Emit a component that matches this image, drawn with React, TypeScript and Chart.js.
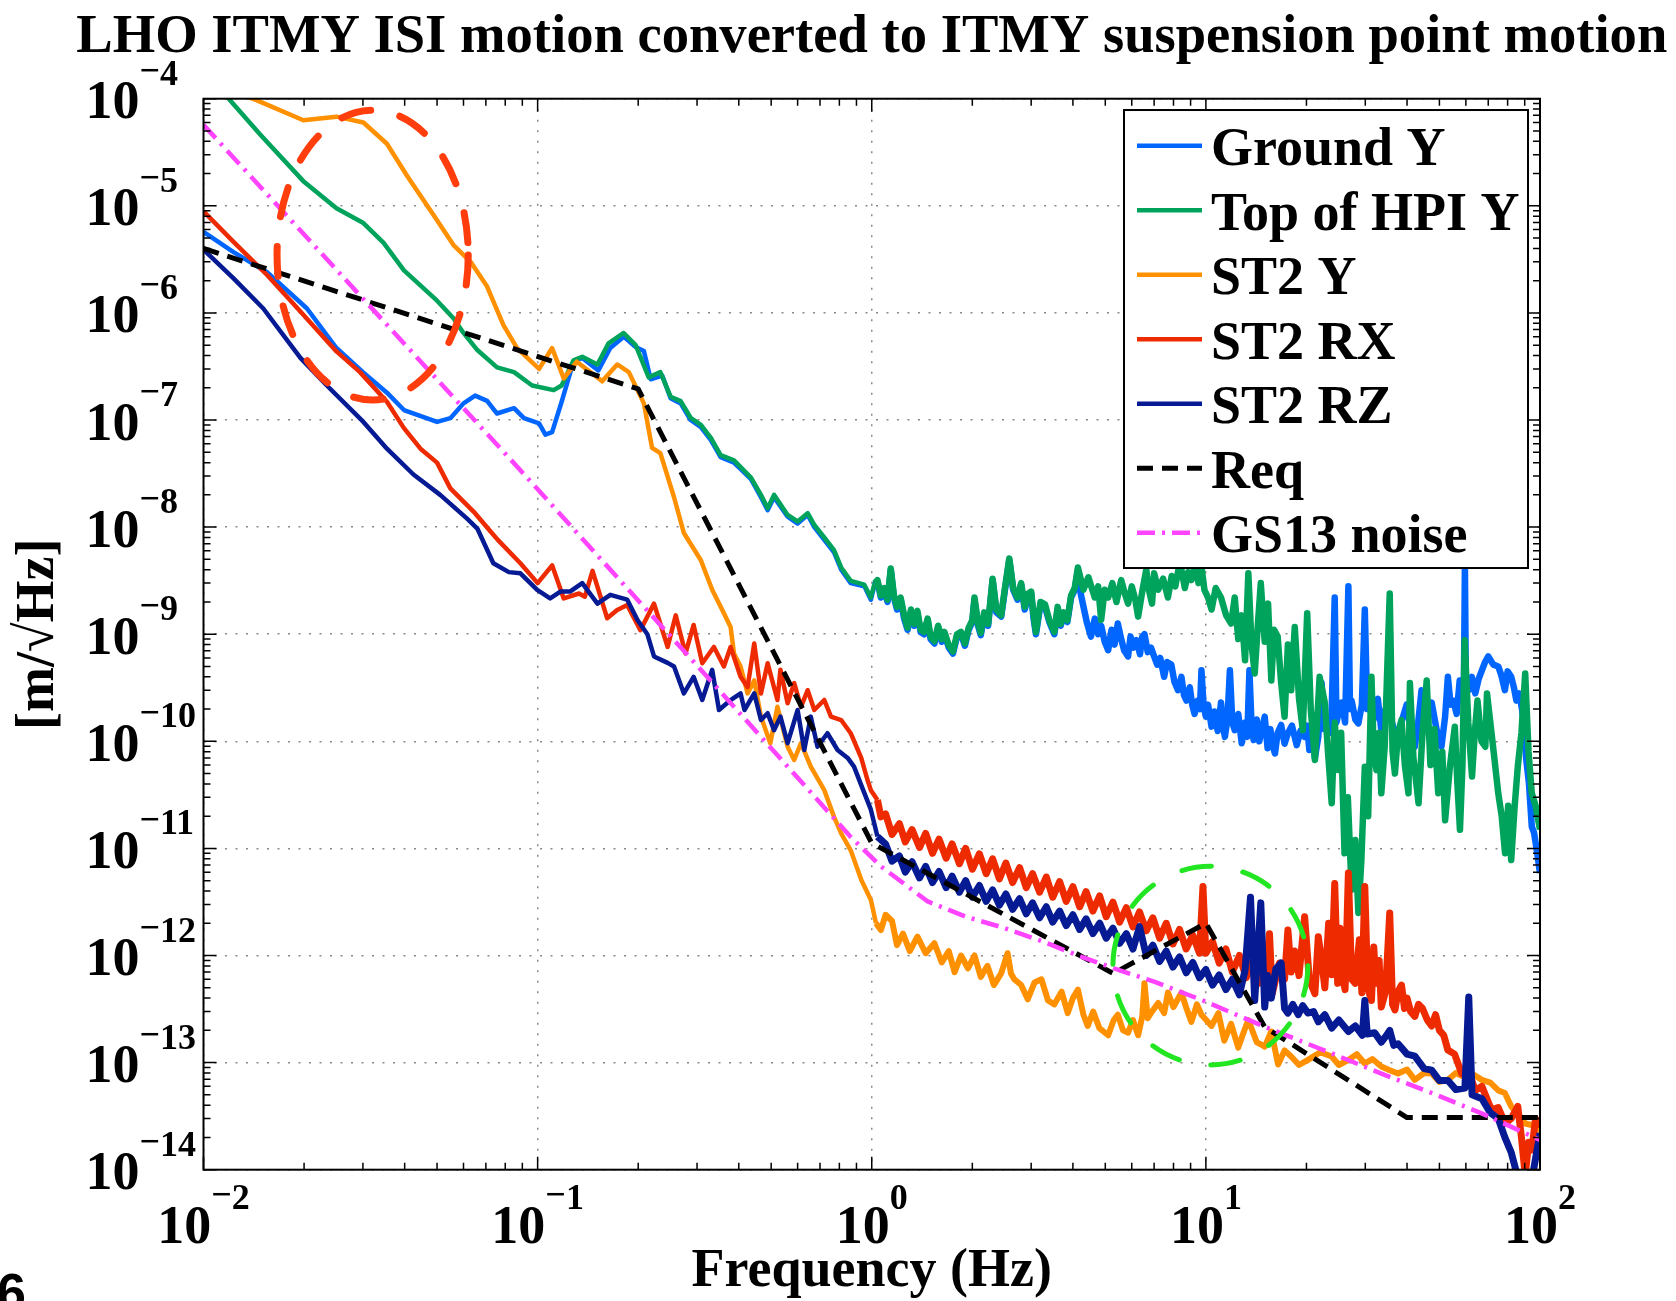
import React, { useEffect, useRef } from "react";
import { Chart, registerables } from "chart.js";

Chart.register(...registerables);

const SERIF = "'Liberation Serif', 'Times New Roman', Times, serif";

// ---------- data: [frequency (Hz), amplitude (m/sqrt(Hz))] ----------
const groundY: number[][] = [
  [0.01,5.7e-6],[0.0123,3.7e-6],[0.0155,2.4e-6],[0.0204,1.1e-6],[0.025,4.7e-7],[0.03,2.8e-7],[0.0354,1.8e-7],[0.0398,1.24e-7],[0.05,9.6e-8],[0.0548,1.04e-7],
  [0.06,1.43e-7],[0.065,1.69e-7],[0.0706,1.51e-7],[0.0756,1.15e-7],[0.085,1.29e-7],[0.091,1.04e-7],[0.101,9.3e-8],[0.1055,7.3e-8],[0.1105,7.7e-8],[0.118,1.48e-7],
  [0.128,3.5e-7],[0.136,3.8e-7],[0.152,2.9e-7],[0.165,4.7e-7],[0.181,6.0e-7],[0.1965,4.8e-7],[0.208,4.4e-7],[0.218,2.4e-7],[0.236,2.6e-7],[0.25,1.6e-7],
  [0.268,1.43e-7],[0.287,1.0e-7],[0.308,8.6e-8],[0.33,6.5e-8],[0.353,4.5e-8],[0.387,4.0e-8],[0.435,2.8e-8],[0.466,1.9e-8],[0.488,1.44e-8],[0.51,1.9e-8],
  [0.56,1.25e-8],[0.6,1.08e-8],[0.643,1.3e-8],[0.673,1.0e-8],[0.721,7.6e-9],[0.771,5.8e-9],[0.81,4.0e-9],[0.865,3.0e-9],[0.95,2.8e-9],[0.994,2.1e-9],
  [1.02,2.9e-9],[1.04,3.1e-9],[1.065,2.2e-9],[1.09,2.6e-9],[1.115,2.0e-9],[1.14,4.0e-9],[1.165,2.2e-9],[1.19,1.7e-9],[1.22,2.1e-9],[1.25,1.4e-9],
  [1.28,1.1e-9],[1.31,1.6e-9],[1.34,1.2e-9],[1.37,1.57e-9],[1.4,1.05e-9],[1.435,1.0e-9],[1.47,1.35e-9],[1.5,9.0e-10],[1.54,8.2e-10],[1.58,1.15e-9],
  [1.62,8.5e-10],[1.65,1.0e-9],[1.7,7.5e-10],[1.75,6.6e-10],[1.8,9.5e-10],[1.85,1.0e-9],[1.9,7.8e-10],[1.95,1.1e-9],[2.0,1.3e-9],[2.03,2.1e-9],
  [2.08,1.2e-9],[2.12,9.8e-10],[2.17,1.5e-9],[2.23,1.2e-9],[2.3,3.2e-9],[2.36,1.6e-9],[2.44,1.46e-9],[2.5,2.5e-9],[2.58,4.9e-9],[2.65,2.6e-9],
  [2.73,2.1e-9],[2.8,2.9e-9],[2.87,1.7e-9],[2.94,2.3e-9],[3.0,2.4e-9],[3.05,1.4e-9],[3.1,1.0e-9],[3.2,1.9e-9],[3.3,1.8e-9],[3.4,1.3e-9],
  [3.52,1.0e-9],[3.6,1.7e-9],[3.68,1.2e-9],[3.75,1.5e-9],[3.85,1.3e-9],[3.95,2.2e-9],[4.05,2.6e-9],[4.14,4.0e-9],[4.22,2.4e-9],[4.32,1.7e-9],
  [4.4,1.3e-9],[4.53,9.5e-10],[4.65,1.4e-9],[4.76,1.0e-9],[4.86,1.2e-9],[4.98,8.5e-10],[5.1,7.1e-10],[5.22,1.1e-9],[5.33,8.0e-10],[5.45,1.26e-9],
  [5.58,9.0e-10],[5.7,7.0e-10],[5.85,6.2e-10],[5.95,9.5e-10],[6.07,7.5e-10],[6.2,8.8e-10],[6.35,6.5e-10],[6.45,9.5e-10],[6.55,1.0e-9],[6.7,6.8e-10],
  [6.85,7.5e-10],[7.0,6.2e-10],[7.15,5.2e-10],[7.3,6.0e-10],[7.5,4.0e-10],[7.65,5.5e-10],[7.88,5.2e-10],[8.05,3.6e-10],[8.25,3.0e-10],[8.45,4.0e-10],
  [8.6,2.7e-10],[8.75,2.4e-10],[8.95,3.2e-10],[9.1,2.2e-10],[9.25,1.8e-10],[9.45,2.4e-10],[9.6,2.0e-10],[9.7,4.6e-10],[9.85,2.1e-10],[10.0,1.7e-10],
  [10.15,2.2e-10],[10.4,1.37e-10],[10.6,1.9e-10],[10.85,1.25e-10],[11.1,2.3e-10],[11.25,1.4e-10],[11.4,1.1e-10],[11.6,1.6e-10],[11.8,4.6e-10],[12.0,1.5e-10],
  [12.2,1.27e-10],[12.5,1.8e-10],[12.8,9.6e-11],[13.1,1.5e-10],[13.3,1.1e-10],[13.5,4.6e-10],[13.7,1.4e-10],[13.9,1.03e-10],[14.2,1.6e-10],[14.45,1.0e-10],
  [14.7,1.27e-10],[15.0,1.7e-10],[15.3,8.6e-11],[15.6,1.3e-10],[15.85,9.0e-11],[16.1,7.7e-11],[16.4,1.2e-10],[16.8,1.42e-10],[17.2,9.5e-11],[17.6,1.19e-10],
  [18.1,1.4e-10],[18.7,9.2e-11],[19.2,1.25e-10],[19.75,1.1e-10],[20.1,1.4e-10],[20.4,8.3e-11],[20.8,1.2e-10],[21.2,7.0e-11],[21.7,1.1e-10],[22.2,3.5e-10],
  [22.6,1.3e-10],[23.1,1.6e-10],[23.7,1.2e-10],[24.3,2.2e-9],[24.6,1.5e-10],[24.9,1.8e-10],[25.5,2.3e-10],[26.1,1.5e-10],[26.7,2.8e-9],[27.0,2.0e-10],
  [27.3,2.4e-10],[28.0,1.6e-10],[28.6,1.47e-10],[29.3,2.2e-10],[29.9,1.7e-9],[30.4,2.0e-10],[30.9,2.4e-10],[31.5,1.5e-10],[32.0,1.7e-10],[32.7,2.5e-10],
  [33.5,1.27e-10],[34.5,2.0e-10],[35.5,1.8e-10],[36.5,1.3e-10],[37.6,1.19e-10],[38.7,1.6e-10],[39.9,2.2e-10],[41,1.3e-10],[42.2,8.9e-11],[43.2,1.5e-10],
  [44.2,3.0e-10],[45.7,1.6e-10],[47.4,2.3e-10],[49,1.3e-10],[50.7,8.9e-11],[52,1.7e-10],[53,4.0e-10],[54,2.2e-10],[55,2.4e-10],[56.3,1.8e-10],
  [57.5,3.7e-10],[58.5,2.5e-10],[59.2,3.5e-10],[59.6,4.4e-9],[60.0,3.2e-10],[61.2,3.0e-10],[62.5,4.0e-10],[64,2.8e-10],[65.5,3.8e-10],[67,4.6e-10],
  [68.5,5.5e-10],[70,6.2e-10],[72.5,5.2e-10],[75,5.0e-10],[76.5,4.2e-10],[78.5,3.0e-10],[80,4.5e-10],[82,4.0e-10],[83.5,3.2e-10],[85,2.4e-10],
  [86.7,2.8e-10],[88.4,1.96e-10],[90,1.2e-10],[91,6.7e-11],[92.7,4.0e-11],[94.5,1.6e-11],[96,1.4e-11],[97.8,9.6e-12],[100,5.9e-12]
];

const topOfHpiY: number[][] = [
  [0.01,1.9e-4],[0.0119,1.0e-4],[0.0148,4.6e-5],[0.0199,1.7e-5],[0.025,9.5e-6],[0.0301,6.9e-6],[0.0346,4.5e-6],[0.0398,2.5e-6],[0.05,1.3e-6],[0.056,8.9e-7],
  [0.06,6.5e-7],[0.066,4.5e-7],[0.0756,3.1e-7],[0.085,2.8e-7],[0.0963,2.1e-7],[0.1117,1.9e-7],[0.118,2.1e-7],[0.128,3.6e-7],[0.136,3.9e-7],[0.151,3.3e-7],
  [0.163,5.2e-7],[0.181,6.5e-7],[0.1965,5.0e-7],[0.215,2.5e-7],[0.233,2.8e-7],[0.25,1.65e-7],[0.268,1.5e-7],[0.287,1.05e-7],[0.308,9.0e-8],[0.33,6.8e-8],
  [0.353,4.7e-8],[0.387,4.2e-8],[0.435,2.9e-8],[0.466,2.0e-8],[0.488,1.5e-8],[0.51,2.0e-8],[0.56,1.3e-8],[0.6,1.13e-8],[0.643,1.35e-8],[0.673,1.05e-8],
  [0.721,8.0e-9],[0.771,6.1e-9],[0.81,4.2e-9],[0.865,3.15e-9],[0.95,2.9e-9],[0.994,2.2e-9],
  [1.02,3.0e-9],[1.04,3.2e-9],[1.065,2.3e-9],[1.09,2.7e-9],[1.115,2.1e-9],[1.14,4.1e-9],[1.165,2.3e-9],[1.19,1.8e-9],[1.22,2.2e-9],[1.25,1.5e-9],
  [1.28,1.15e-9],[1.31,1.7e-9],[1.34,1.25e-9],[1.37,1.65e-9],[1.4,1.1e-9],[1.435,1.05e-9],[1.47,1.4e-9],[1.5,9.5e-10],[1.54,8.6e-10],[1.58,1.2e-9],
  [1.62,9.0e-10],[1.65,1.05e-9],[1.7,7.9e-10],[1.75,6.9e-10],[1.8,1.0e-9],[1.85,1.05e-9],[1.9,8.2e-10],[1.95,1.15e-9],[2.0,1.35e-9],[2.03,2.2e-9],
  [2.08,1.25e-9],[2.12,1.03e-9],[2.17,1.6e-9],[2.23,1.25e-9],[2.3,3.3e-9],[2.36,1.7e-9],[2.44,1.5e-9],[2.5,2.6e-9],[2.58,5.1e-9],[2.65,2.7e-9],
  [2.73,2.2e-9],[2.8,3.0e-9],[2.87,1.8e-9],[2.94,2.4e-9],[3.0,2.5e-9],[3.05,1.5e-9],[3.1,1.05e-9],[3.2,2.0e-9],[3.3,1.9e-9],[3.4,1.35e-9],
  [3.52,1.05e-9],[3.6,1.8e-9],[3.68,1.25e-9],[3.75,1.6e-9],[3.85,1.35e-9],[3.95,2.3e-9],[4.05,2.7e-9],[4.14,4.2e-9],[4.3,2.6e-9],[4.45,3.4e-9],
  [4.65,2.2e-9],[4.76,2.8e-9],[4.86,1.36e-9],[4.98,2.6e-9],[5.1,2.2e-9],[5.25,3.0e-9],[5.4,2.0e-9],[5.58,3.2e-9],[5.72,2.4e-9],[5.85,1.93e-9],
  [6.0,2.8e-9],[6.15,2.1e-9],[6.27,1.46e-9],[6.45,2.5e-9],[6.63,4.0e-9],[6.75,2.6e-9],[6.9,1.93e-9],[7.0,3.7e-9],[7.2,2.6e-9],[7.45,3.3e-9],
  [7.7,2.2e-9],[7.9,3.5e-9],[8.1,2.8e-9],[8.3,4.2e-9],[8.45,4.0e-9],[8.65,2.7e-9],[8.85,3.8e-9],[9.05,3.2e-9],[9.3,4.6e-9],[9.5,3.0e-9],
  [9.7,4.3e-9],[9.9,2.6e-9],[10.15,2.2e-9],[10.4,1.7e-9],[10.7,2.7e-9],[11.1,2.2e-9],[11.5,1.5e-9],[11.9,1.26e-9],[12.2,2.2e-9],[12.5,9.0e-10],
  [12.8,1.5e-9],[13.1,5.7e-10],[13.4,3.7e-9],[13.7,8.0e-10],[14.0,4.3e-10],[14.3,1.2e-9],[14.6,3.0e-9],[15.0,8.5e-10],[15.35,1.93e-9],[15.7,3.7e-10],
  [16.0,1.1e-9],[16.4,9.5e-10],[16.8,3.5e-10],[17.2,1.7e-10],[17.6,8.0e-10],[18.0,3.0e-10],[18.45,1.17e-9],[19.0,2.5e-10],[19.5,1.27e-10],[20.1,1.57e-9],
  [20.6,2.0e-10],[21.2,6.7e-11],[21.9,4.0e-10],[22.7,2.3e-10],[23.2,8.0e-11],[23.8,2.64e-11],[24.3,1.5e-10],[24.9,5.4e-11],[25.4,1.2e-10],[26.0,9.0e-12],
  [26.6,3.0e-11],[27.3,4.1e-12],[28.0,1.2e-11],[28.6,2.5e-12],[29.2,7.8e-12],[29.9,5.8e-11],[30.6,2.0e-11],[31.3,4.0e-10],[31.8,8.0e-11],[32.4,5.4e-11],
  [33.0,1.2e-10],[33.5,3.27e-11],[34.3,9.0e-11],[35.5,2.4e-9],[36.2,8.0e-11],[36.8,5.0e-11],[37.6,1.2e-10],[38.5,1.58e-10],[39.4,6.0e-11],[40.4,3.27e-11],
  [40.8,3.5e-10],[41.8,7.0e-11],[43.3,2.64e-11],[44.5,1.2e-10],[45.8,3.7e-10],[47,6.0e-11],[48.3,1.3e-10],[49.6,3.27e-11],[51,8.0e-11],[52,1.83e-11],
  [53.8,6.0e-11],[55.6,1.37e-10],[56.6,4.0e-11],[57.6,1.49e-11],[58.6,6.0e-11],[59.5,8.8e-10],[61,1.5e-10],[62.6,4.7e-11],[63.8,1.2e-10],[65,2.4e-10],
  [66.8,1.0e-10],[68.6,8.9e-11],[69.4,2.8e-10],[71,1.5e-10],[73,7.0e-11],[75,3.27e-11],[76.8,2.0e-11],[78.6,9.0e-12],[80.3,2.5e-11],[82,7.8e-12],
  [84,2.5e-11],[85.8,5.8e-11],[88,1.2e-10],[90.3,4.3e-10],[92.4,8.0e-11],[94.5,3.27e-11],[97,2.5e-11],[100,1.5e-11]
];

const st2Y: number[][] = [
  [0.01,1.5e-4],[0.0144,9.7e-5],[0.0199,6.3e-5],[0.025,6.8e-5],[0.0301,6.0e-5],[0.0354,3.8e-5],[0.0407,1.9e-5],[0.0488,8.2e-6],[0.056,4.3e-6],[0.063,3.0e-6],
  [0.0706,1.76e-6],[0.079,7.7e-7],[0.0868,4.7e-7],[0.101,3.0e-7],[0.1105,4.7e-7],[0.1197,2.45e-7],[0.131,3.5e-7],[0.146,2.7e-7],[0.156,2.3e-7],[0.173,3.3e-7],
  [0.1875,2.8e-7],[0.208,1.43e-7],[0.22,5.5e-8],[0.233,4.9e-8],[0.256,1.9e-8],[0.274,8.8e-9],[0.308,4.9e-9],[0.333,2.6e-9],[0.361,1.57e-9],[0.378,1.17e-9],
  [0.387,6.6e-10],[0.405,5.0e-10],[0.425,2.8e-10],[0.445,3.7e-10],[0.466,1.7e-10],[0.497,9.6e-11],[0.522,2.1e-10],[0.56,8.9e-11],[0.586,6.7e-11],[0.614,9.6e-11],
  [0.657,5.8e-11],[0.721,3.5e-11],[0.771,1.97e-11],[0.81,1.38e-11],[0.865,9.6e-12],[0.93,5.1e-12],[0.994,3.3e-12],[1.03,2.0e-12],[1.065,1.73e-12],[1.1,2.4e-12],
  [1.15,2.1e-12],[1.19,1.25e-12],[1.24,1.6e-12],[1.3,1.1e-12],[1.37,1.5e-12],[1.45,1.05e-12],[1.54,1.3e-12],[1.62,8.6e-13],[1.7,1.1e-12],[1.77,7.0e-13],
  [1.85,1.0e-12],[1.94,7.6e-13],[2.03,1.0e-12],[2.12,6.3e-13],[2.22,8.0e-13],[2.32,5.3e-13],[2.44,6.8e-13],[2.55,1.05e-12],[2.61,6.8e-13],[2.67,6.0e-13],
  [2.8,5.3e-13],[2.93,3.9e-13],[3.07,5.6e-13],[3.22,6.0e-13],[3.37,3.8e-13],[3.52,3.5e-13],[3.7,4.6e-13],[3.86,2.9e-13],[4.0,4.0e-13],[4.14,4.8e-13],
  [4.3,2.8e-13],[4.43,2.2e-13],[4.6,3.0e-13],[4.8,2.1e-13],[5.1,1.8e-13],[5.3,2.5e-13],[5.45,2.8e-13],[5.65,2.0e-13],[5.85,1.9e-13],[6.05,2.5e-13],
  [6.27,1.8e-13],[6.45,2.7e-13],[6.55,5.5e-13],[6.7,2.6e-13],[6.9,3.0e-13],[7.2,3.6e-13],[7.5,2.9e-13],[7.7,4.5e-13],[8.0,3.3e-13],[8.45,4.5e-13],
  [8.75,3.2e-13],[9.05,2.4e-13],[9.4,3.5e-13],[9.7,2.8e-13],[10.4,2.2e-13],[10.9,2.9e-13],[11.35,1.6e-13],[11.9,2.3e-13],[12.5,1.38e-13],[13.0,1.95e-13],
  [13.4,2.5e-13],[14.2,1.55e-13],[15.0,1.41e-13],[15.7,1.95e-13],[16.45,9.6e-14],[17.2,1.3e-13],[18.0,1.14e-13],[19.0,9.5e-14],[20.2,1.06e-13],[22.0,1.25e-13],
  [23.8,1.14e-13],[25.0,9.5e-14],[26.7,1.06e-13],[28.3,1.2e-13],[29.9,9.8e-14],[31.5,1.08e-13],[33.5,9.2e-14],[35.5,8.5e-14],[37.6,7.9e-14],[40.0,8.6e-14],
  [42.2,6.9e-14],[45,8.0e-14],[47.4,7.9e-14],[50,6.6e-14],[53,6.9e-14],[56,8.0e-14],[59.6,7.3e-14],[63,7.8e-14],[67,6.9e-14],[71,6.5e-14],
  [75,5.5e-14],[78.5,5.2e-14],[82,3.9e-14],[86,3.3e-14],[90.3,2.7e-14],[95,2.6e-14],[100,2.3e-14]
];

const st2RX: number[][] = [
  [0.01,8.9e-6],[0.0123,4.6e-6],[0.0155,2.26e-6],[0.0195,1.03e-6],[0.025,4.37e-7],[0.0294,2.8e-7],[0.0354,1.48e-7],[0.0398,8.4e-8],[0.0446,5.4e-8],[0.05,4.0e-8],
  [0.0548,2.3e-8],[0.0644,1.39e-8],[0.0723,9.1e-9],[0.076,7.6e-9],[0.0888,4.6e-9],[0.1,3.0e-9],[0.1105,4.4e-9],[0.1197,2.16e-9],[0.133,2.4e-9],[0.1385,2.24e-9],
  [0.146,3.9e-9],[0.1615,1.41e-9],[0.173,1.68e-9],[0.1855,1.87e-9],[0.203,1.09e-9],[0.223,1.93e-9],[0.245,7.6e-10],[0.259,1.5e-9],[0.277,6.6e-10],[0.293,1.22e-9],
  [0.311,5.35e-10],[0.337,7.6e-10],[0.361,5.0e-10],[0.378,7.6e-10],[0.405,4.0e-10],[0.425,3.2e-10],[0.445,8.2e-10],[0.466,2.8e-10],[0.488,5.35e-10],[0.522,2.43e-10],
  [0.533,4.65e-10],[0.56,2.27e-10],[0.586,3.5e-10],[0.614,2.1e-10],[0.643,3.0e-10],[0.673,1.96e-10],[0.721,2.43e-10],[0.755,1.7e-10],[0.81,1.58e-10],[0.865,1.19e-10],
  [0.93,7.0e-11],[0.97,4.4e-11],[0.994,3.5e-11],[1.04,2.83e-11],[1.065,1.97e-11],
  [1.1,2.1e-11],[1.15,1.35e-11],[1.21,1.7e-11],[1.26,1.15e-11],[1.32,1.5e-11],[1.39,1.02e-11],[1.45,1.38e-11],[1.52,9.0e-12],[1.59,1.22e-11],[1.67,8.1e-12],
  [1.74,1.1e-11],[1.83,7.2e-12],[1.91,1.0e-11],[2.0,6.4e-12],[2.1,8.9e-12],[2.2,5.8e-12],[2.3,8.0e-12],[2.41,5.2e-12],[2.52,7.3e-12],[2.64,4.8e-12],
  [2.77,6.6e-12],[2.9,4.3e-12],[3.03,5.8e-12],[3.18,3.9e-12],[3.33,5.4e-12],[3.48,3.5e-12],[3.65,4.9e-12],[3.82,3.2e-12],[4.0,4.4e-12],[4.19,2.85e-12],
  [4.38,3.95e-12],[4.59,2.6e-12],[4.81,3.6e-12],[5.03,2.3e-12],[5.27,3.15e-12],[5.52,2.05e-12],[5.78,2.8e-12],[6.05,1.85e-12],[6.33,2.55e-12],[6.63,1.7e-12],
  [6.94,2.25e-12],[7.27,1.45e-12],[7.61,2.0e-12],[7.97,1.28e-12],[8.34,1.75e-12],[8.73,1.15e-12],[9.14,1.55e-12],[9.57,1.05e-12],[9.8,4.4e-12],[10.0,1.05e-12],
  [10.47,1.35e-12],[10.96,8.5e-13],[11.48,1.15e-12],[12.0,7.0e-13],[12.6,1.0e-12],[13.2,6.2e-13],[13.8,9.0e-13],[14.4,5.5e-13],[15.1,6.0e-13],[15.5,1.6e-12],
  [15.8,4.4e-13],[16.6,8.5e-13],[17.2,6.0e-13],[17.6,1.73e-12],[18.0,7.0e-13],[18.45,1.1e-12],[19.0,6.5e-13],[19.75,2.3e-12],[20.4,5.9e-13],[21.2,4.4e-13],
  [21.7,1.5e-12],[22.2,9.0e-13],[22.7,5.0e-13],[23.3,2.0e-12],[23.8,6.6e-13],[24.3,4.7e-12],[24.8,5.5e-13],[25.2,1.8e-12],[25.5,6.8e-13],[26.1,4.8e-13],
  [26.7,5.9e-12],[27.3,6.0e-13],[28.0,5.5e-13],[28.8,1.4e-12],[29.3,4.5e-13],[29.9,4.4e-12],[30.5,5.0e-13],[31.3,3.8e-13],[31.8,1.2e-12],[32.3,5.5e-13],
  [33.0,9.0e-13],[33.5,3.3e-13],[34.5,4.6e-13],[35.5,2.5e-12],[36.2,3.5e-13],[36.8,3.1e-13],[37.6,4.6e-13],[38.5,5.3e-13],[39.3,3.2e-13],[40,4.0e-13],
  [41,3.0e-13],[42.2,2.7e-13],[43.3,3.5e-13],[44.5,3.2e-13],[46,2.5e-13],[47.4,2.2e-13],[48.7,2.8e-13],[50,2.0e-13],[51.5,1.8e-13],[53,1.31e-13],
  [55.5,1.2e-13],[58.3,7.9e-14],[61,8.5e-14],[64,5.5e-14],[67,6.0e-14],[71.6,3.6e-14],[75,3.8e-14],[78.6,2.7e-14],[82,3.0e-14],[85.8,3.9e-14],
  [88,2.0e-14],[90.3,8.9e-15],[92.5,1.8e-14],[94.5,1.53e-14],[97,3.0e-14],[100,2.5e-14]
];

const st2RZ: number[][] = [
  [0.01,3.9e-6],[0.0123,2.1e-6],[0.0151,1.1e-6],[0.0195,3.8e-7],[0.0234,2.1e-7],[0.0301,9.6e-8],[0.0354,5.4e-8],[0.0425,3.1e-8],[0.0511,2.0e-8],[0.0615,1.2e-8],
  [0.066,9.7e-9],[0.0737,4.6e-9],[0.082,3.8e-9],[0.0888,3.7e-9],[0.0997,2.6e-9],[0.109,2.16e-9],[0.117,2.5e-9],[0.125,2.5e-9],[0.136,3.0e-9],[0.151,1.93e-9],
  [0.165,2.33e-9],[0.1855,2.1e-9],[0.199,1.36e-9],[0.213,1.0e-9],[0.223,6.2e-10],[0.245,5.4e-10],[0.256,5.0e-10],[0.274,2.8e-10],[0.293,4.0e-10],[0.311,2.43e-10],
  [0.333,4.65e-10],[0.349,1.96e-10],[0.378,2.43e-10],[0.405,2.8e-10],[0.416,1.96e-10],[0.445,2.8e-10],[0.466,1.58e-10],[0.488,1.83e-10],[0.51,1.27e-10],[0.533,1.7e-10],
  [0.56,9.6e-11],[0.6,1.96e-10],[0.628,8.3e-11],[0.657,1.7e-10],[0.688,8.9e-11],[0.737,1.19e-10],[0.79,8.3e-11],[0.847,7.0e-11],[0.885,5.8e-11],[0.93,3.9e-11],
  [0.994,2.3e-11],[1.04,1.29e-11],
  [1.1,1.1e-11],[1.15,7.6e-12],[1.21,8.5e-12],[1.26,6.0e-12],[1.32,7.5e-12],[1.39,5.3e-12],[1.45,6.8e-12],[1.52,4.8e-12],[1.59,6.1e-12],[1.67,4.3e-12],
  [1.74,5.5e-12],[1.83,3.9e-12],[1.91,5.0e-12],[2.0,3.5e-12],[2.1,4.5e-12],[2.2,3.2e-12],[2.3,4.1e-12],[2.41,2.95e-12],[2.52,3.75e-12],[2.64,2.7e-12],
  [2.77,3.4e-12],[2.9,2.45e-12],[3.03,3.1e-12],[3.18,2.25e-12],[3.33,2.85e-12],[3.48,2.05e-12],[3.65,2.6e-12],[3.82,1.9e-12],[4.0,2.4e-12],[4.19,1.75e-12],
  [4.38,2.2e-12],[4.59,1.6e-12],[4.81,2.0e-12],[5.03,1.45e-12],[5.27,1.8e-12],[5.52,1.3e-12],[5.78,1.6e-12],[6.05,1.15e-12],[6.33,1.86e-12],[6.63,1.0e-12],
  [6.94,1.25e-12],[7.27,8.8e-13],[7.61,1.1e-12],[7.97,7.8e-13],[8.34,9.7e-13],[8.73,6.9e-13],[9.14,8.6e-13],[9.57,6.2e-13],[10.0,7.4e-13],[10.47,5.3e-13],
  [10.96,6.6e-13],[11.48,4.8e-13],[12.0,6.0e-13],[12.6,4.3e-13],[13.1,7.3e-13],[13.6,3.5e-12],[14.0,3.8e-13],[14.6,3.1e-12],[15.0,3.3e-13],[15.3,6.5e-13],
  [15.7,4.0e-13],[16.2,7.5e-13],[16.8,8.5e-13],[17.2,3.2e-13],[17.6,2.9e-13],[18.2,3.5e-13],[18.9,2.8e-13],[19.5,3.4e-13],[20.2,2.9e-13],[21.0,3.0e-13],
  [21.7,2.4e-13],[22.7,2.8e-13],[23.8,2.1e-13],[25.0,2.5e-13],[26.7,1.95e-13],[28.0,2.2e-13],[29.4,1.8e-13],[29.9,3.8e-13],[30.4,1.85e-13],[32.0,1.9e-13],
  [33.5,1.55e-13],[34.5,1.75e-13],[35.5,2.0e-13],[36.5,1.45e-13],[37.6,1.5e-13],[40.0,1.2e-13],[42.2,1.15e-13],[45,8.8e-14],[47.4,8.5e-14],[50,6.8e-14],
  [53,6.8e-14],[56,5.6e-14],[59.6,5.8e-14],[61.2,4.1e-13],[62.6,5.0e-14],[67,4.6e-14],[71,3.4e-14],[75,3.0e-14],[78.5,2.0e-14],[82,1.45e-14],
  [85.8,8.5e-15],[94.5,8e-15],[100,2.2e-14]
];

const requirement: number[][] = [
  [0.01,4.0e-6],[0.2,1.95e-7],[1.0,1.12e-11],[5.28,6.8e-13],[10.0,2.0e-12],[15.0,2.15e-13],[40,3.07e-14],[100,3.07e-14]
];

const gs13Noise: number[][] = [
  [0.01,5.7e-5],[0.0888,3.4e-8],[0.3,5.1e-10],[0.865,1.28e-11],[1.065,6.8e-12],[1.47,3.2e-12],[1.914,2.3e-12],[2.49,1.81e-12],[3.25,1.35e-12],[4.14,1.0e-12],
  [5.5,7.3e-13],[7.0,5.7e-13],[9.8,3.8e-13],[15.0,2.16e-13],[23.8,1.22e-13],[33.5,7.9e-14],[47.4,5.2e-14],[66.9,3.36e-14],[100,1.9e-14]
];

const seriesLabels = ["Ground Y", "Top of HPI Y", "ST2 Y", "ST2 RX", "ST2 RZ", "Req", "GS13 noise"];
const chartTitle = "LHO ITMY ISI motion converted to ITMY suspension point motion";
const xAxisTitle = "Frequency (Hz)";
const yAxisTitle = "[m/\u221AHz]";
const xRange = [0.01, 100];
const yRange = [1e-14, 1e-4];
// annotation ellipses: [fMin, fMax, vMin, vMax]
const redEllipse = [0.0166, 0.062, 1.54e-7, 7.8e-5];
const greenEllipse = [5.27, 20.2, 9.5e-14, 6.8e-12];

// ---------- helpers ----------
const isMajor = (v: number) => {
  const l = Math.log10(v);
  return Math.abs(l - Math.round(l)) < 1e-6;
};
const isWhole = (v: number) => {
  const e = Math.floor(Math.log10(v) + 1e-9);
  const m = v / Math.pow(10, e);
  return Math.abs(m - Math.round(m)) < 1e-6;
};
const toPoints = (rows: number[][]) => rows.map((r) => ({ x: r[0], y: r[1] }));

const decorPlugin = {
  id: "decor",
  afterLayout(chart: any) {
    // keep the long title centred over the plot without squeezing it
    const tb = chart.titleBlock;
    if (tb && chart.chartArea) {
      const c = (chart.chartArea.left + chart.chartArea.right) / 2;
      tb.left = c - 838;
      tb.right = c + 838;
    }
  },
  afterDatasetsDraw(chart: any) {
    const { ctx, chartArea: a, scales } = chart;
    const xs = scales.x;
    const ys = scales.y;
    ctx.save();

    const ellipse = (e: number[], color: string, width: number, dash: number[]) => {
      const x1 = xs.getPixelForValue(e[0]);
      const x2 = xs.getPixelForValue(e[1]);
      const y1 = ys.getPixelForValue(e[3]);
      const y2 = ys.getPixelForValue(e[2]);
      ctx.beginPath();
      ctx.ellipse((x1 + x2) / 2, (y1 + y2) / 2, (x2 - x1) / 2, (y2 - y1) / 2, 0, 0, Math.PI * 2);
      ctx.strokeStyle = color;
      ctx.lineWidth = width;
      ctx.setLineDash(dash);
      ctx.lineCap = "round";
      ctx.stroke();
    };
    ellipse(redEllipse, "#ff3d0d", 7, [30, 30]);
    ellipse(greenEllipse, "#22e622", 5, [30, 32]);

    ctx.setLineDash([]);
    ctx.lineCap = "butt";
    ctx.strokeStyle = "#000";
    ctx.lineWidth = 1.5;
    ctx.beginPath();
    xs.ticks.forEach((t: any) => {
      if (!isWhole(t.value)) return;
      const x = xs.getPixelForValue(t.value);
      const len = isMajor(t.value) ? 13 : 7;
      ctx.moveTo(x, a.bottom);
      ctx.lineTo(x, a.bottom - len);
      ctx.moveTo(x, a.top);
      ctx.lineTo(x, a.top + len);
    });
    ys.ticks.forEach((t: any) => {
      if (!isWhole(t.value)) return;
      const y = ys.getPixelForValue(t.value);
      const len = isMajor(t.value) ? 13 : 7;
      ctx.moveTo(a.left, y);
      ctx.lineTo(a.left + len, y);
      ctx.moveTo(a.right, y);
      ctx.lineTo(a.right - len, y);
    });
    ctx.stroke();

    ctx.lineWidth = 2;
    ctx.strokeRect(a.left, a.top, a.right - a.left, a.bottom - a.top);

    // legend box
    const lx = a.right - 416;
    const ly = a.top + 11.3;
    const lw = 404;
    const lh = 458;
    ctx.fillStyle = "#fff";
    ctx.fillRect(lx, ly, lw, lh);
    ctx.strokeStyle = "#000";
    ctx.lineWidth = 2;
    ctx.strokeRect(lx, ly, lw, lh);
    ctx.font = `bold 54px ${SERIF}`;
    ctx.textAlign = "left";
    ctx.textBaseline = "alphabetic";
    chart.data.datasets.forEach((ds: any, i: number) => {
      const y = ly + 35.7 + i * 64.5;
      ctx.beginPath();
      ctx.setLineDash(ds.borderDash || []);
      ctx.strokeStyle = ds.borderColor;
      ctx.lineWidth = ds.borderWidth;
      ctx.moveTo(lx + 13, y);
      ctx.lineTo(lx + 78, y);
      ctx.stroke();
      ctx.setLineDash([]);
      ctx.fillStyle = "#000";
      ctx.fillText(ds.label, lx + 87, y + 19.5);
    });
    ctx.restore();
  },
  afterDraw(chart: any) {
    const { ctx, chartArea: a, scales } = chart;
    const xs = scales.x;
    const ys = scales.y;
    ctx.save();
    ctx.fillStyle = "#000";
    ctx.textAlign = "left";
    ctx.textBaseline = "alphabetic";
    const big = `bold 54px ${SERIF}`;
    const small = `bold 36px ${SERIF}`;
    const minus = "\u2212";
    const expWidth = (e: number) => {
      ctx.font = small;
      let w = ctx.measureText(String(Math.abs(e))).width;
      if (e < 0) w += ctx.measureText(minus).width;
      return w;
    };
    const drawExp = (e: number, x: number, y: number) => {
      ctx.font = small;
      if (e < 0) {
        ctx.fillText(minus, x, y - 3);
        x += ctx.measureText(minus).width;
      }
      ctx.fillText(String(Math.abs(e)), x, y);
    };
    ys.ticks.forEach((t: any) => {
      if (!isMajor(t.value)) return;
      const y = ys.getPixelForValue(t.value);
      const e = Math.round(Math.log10(t.value));
      const x0 = a.left - 118;
      ctx.font = big;
      ctx.fillText("10", x0, y + 19.5);
      const w = ctx.measureText("10").width;
      drawExp(e, x0 + w, y - 14);
    });
    xs.ticks.forEach((t: any) => {
      if (!isMajor(t.value)) return;
      const x = xs.getPixelForValue(t.value);
      const e = Math.round(Math.log10(t.value));
      ctx.font = big;
      const w10 = ctx.measureText("10").width;
      const we = expWidth(e);
      const x0 = x - (w10 + we) / 2;
      ctx.font = big;
      ctx.fillText("10", x0, a.bottom + 73.5);
      drawExp(e, x0 + w10, a.bottom + 39.5);
    });
    ctx.font = "bold 52px 'Liberation Sans', Arial, sans-serif";
    ctx.fillText("6", -3, 1310);
    ctx.restore();
  },
};

export default function App() {
  const canvasRef = useRef<HTMLCanvasElement | null>(null);

  useEffect(() => {
    const canvas = canvasRef.current;
    if (!canvas) return;

    // width: line width below 1 Hz; noisy: width of the dense, noisy part above 1 Hz
    const styles = [
      { color: "#0066ff", dash: [] as number[], width: 4.5, noisy: 6.5, order: 6 },
      { color: "#00a35c", dash: [] as number[], width: 4.5, noisy: 6.5, order: 5 },
      { color: "#ff9000", dash: [] as number[], width: 4.5, noisy: 6, order: 4 },
      { color: "#ee2a00", dash: [] as number[], width: 4.5, noisy: 7, order: 3 },
      { color: "#061a94", dash: [] as number[], width: 4.5, noisy: 7, order: 2 },
      { color: "#000000", dash: [16, 9], width: 5, noisy: 5, order: 1 },
      { color: "#ff44ff", dash: [18, 7, 3, 7], width: 4.5, noisy: 4.5, order: 0 },
    ];
    const seriesData = [groundY, topOfHpiY, st2Y, st2RX, st2RZ, requirement, gs13Noise];

    const datasets = seriesData.map((rows, i) => ({
      label: seriesLabels[i],
      data: toPoints(rows),
      borderColor: styles[i].color,
      backgroundColor: styles[i].color,
      borderWidth: styles[i].width,
      borderDash: styles[i].dash,
      borderJoinStyle: "round" as const,
      borderCapStyle: "butt" as const,
      pointRadius: 0,
      pointHoverRadius: 0,
      tension: 0,
      fill: false,
      order: styles[i].order,
      segment: {
        borderWidth: (c: any) => (rows[c.p0DataIndex][0] >= 1 ? styles[i].noisy : styles[i].width),
      },
    }));

    const gridColor = (c: any) => (c.tick && isMajor(c.tick.value) ? "#8a8a8a" : "rgba(0,0,0,0)");

    const chart = new Chart(canvas, {
      type: "line",
      data: { datasets },
      options: {
        animation: false,
        responsive: false,
        devicePixelRatio: 1,
        events: [],
        layout: { padding: { left: 0, right: 136, top: 0, bottom: 0 } },
        plugins: {
          legend: { display: false },
          tooltip: { enabled: false },
          title: {
            display: true,
            text: chartTitle,
            color: "#000",
            fullSize: false,
            font: { family: SERIF, size: 54.6, weight: "bold", lineHeight: 1.2 },
            padding: { top: 5.4, bottom: 27.8 },
          },
        },
        scales: {
          x: {
            type: "logarithmic",
            min: xRange[0],
            max: xRange[1],
            afterFit: (s: any) => {
              s.height = 131.3;
            },
            ticks: { display: false, autoSkip: false },
            grid: { color: gridColor, lineWidth: 1.5, drawTicks: false },
            border: { display: false, dash: [2, 8.5] },
            title: {
              display: true,
              text: xAxisTitle,
              color: "#000",
              font: { family: SERIF, size: 54, weight: "bold", lineHeight: 1 },
              padding: { top: 0, bottom: 1.5 },
            },
          },
          y: {
            type: "logarithmic",
            min: yRange[0],
            max: yRange[1],
            afterFit: (s: any) => {
              s.width = 203.5;
            },
            ticks: { display: false, autoSkip: false },
            grid: { color: gridColor, lineWidth: 1.5, drawTicks: false },
            border: { display: false, dash: [2, 8.5] },
            title: {
              display: true,
              text: yAxisTitle,
              color: "#000",
              font: { family: SERIF, size: 54, weight: "bold", lineHeight: 1 },
              padding: { top: 12.5, bottom: 0 },
            },
          },
        },
      } as any,
      plugins: [decorPlugin],
    });

    return () => {
      chart.destroy();
    };
  }, []);

  return (
    <div style={{ position: "fixed", left: 0, top: 0, width: 1676, height: 1301, background: "#fff" }}>
      <canvas ref={canvasRef} width={1676} height={1301} style={{ display: "block" }} />
    </div>
  );
}
